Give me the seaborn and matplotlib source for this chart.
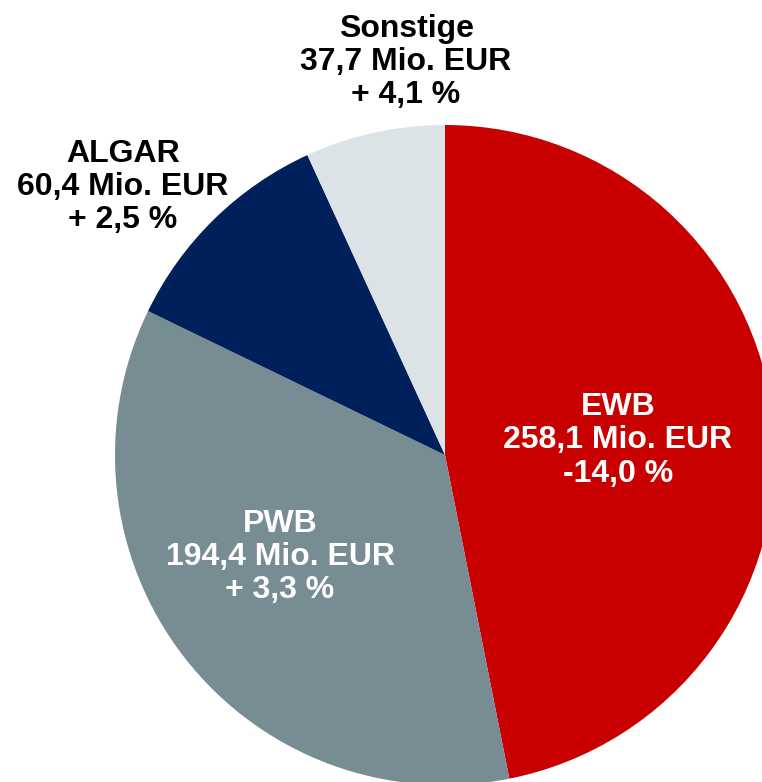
import matplotlib
matplotlib.use("Agg")
import matplotlib.pyplot as plt
import seaborn as sns

categories = ["EWB", "PWB", "ALGAR", "Sonstige"]
values = [258.1, 194.4, 60.4, 37.7]
value_labels = ["258,1 Mio. EUR", "194,4 Mio. EUR", "60,4 Mio. EUR", "37,7 Mio. EUR"]
changes = ["-14,0 %", "+ 3,3 %", "+ 2,5 %", "+ 4,1 %"]

colors = sns.color_palette(["#C90000", "#778C93", "#00205C", "#DCE3E6"])
text_colors = ["white", "white", "black", "black"]
label_pos = [(0.524, 0.045), (-0.50, -0.309), (-0.976, 0.812), (-0.118, 1.191)]

sns.set_theme(style="white")
plt.rcParams["font.family"] = ["Liberation Sans", "DejaVu Sans"]

fig = plt.figure(figsize=(7.62, 7.82), dpi=100)
ax = fig.add_axes([0, 0, 1, 1])
ax.pie(values, colors=colors, startangle=90, counterclock=False, radius=1.0,
       wedgeprops=dict(linewidth=0))
ax.set_xlim(-445 / 330, (762 - 445) / 330)
ax.set_ylim(-(782 - 455) / 330, 455 / 330)
ax.set_aspect("auto")
ax.axis("off")

for cat, vl, ch, (x, y), tc in zip(categories, value_labels, changes, label_pos, text_colors):
    ax.text(x, y, f"{cat}\n{vl}\n{ch}", ha="center", va="center", fontsize=23,
            fontweight="bold", color=tc, linespacing=1.15)

fig.savefig("out.png", dpi=100)
